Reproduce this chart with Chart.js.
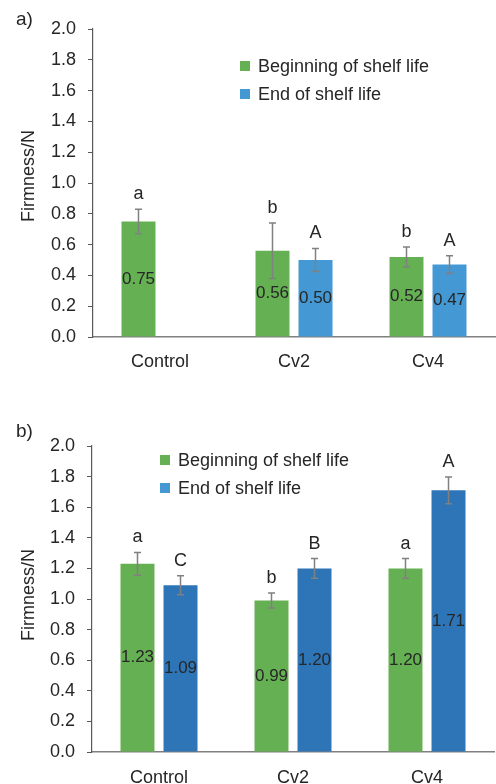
<!DOCTYPE html>
<html>
<head>
<meta charset="utf-8">
<script src="https://cdn.jsdelivr.net/npm/chart.js@4.4.0/dist/chart.umd.min.js"></script>
<style>
  body { margin: 0; background: #fff; }
  .box { position: absolute; left: 0; width: 496px; height: 392px; }
</style>
</head>
<body>
<div class="box" style="top:0"><canvas id="chartA"></canvas></div>
<div class="box" style="top:392px"><canvas id="chartB"></canvas></div>
<script>
// data
const categories = ["Control", "Cv2", "Cv4"];
const seriesNames = ["Beginning of shelf life", "End of shelf life"];

// panel a
const aBegin = [0.75, 0.56, 0.52];
const aEnd = [null, 0.50, 0.47];
const aBeginErr = [0.08, 0.18, 0.065];
const aEndErr = [null, 0.075, 0.057];
const aBeginLetters = ["a", "b", "b"];
const aEndLetters = ["", "A", "A"];

// panel b
const bBegin = [1.23, 0.99, 1.20];
const bEnd = [1.09, 1.20, 1.71];
const bBeginErr = [0.074, 0.049, 0.064];
const bEndErr = [0.062, 0.064, 0.087];
const bBeginLetters = ["a", "b", "a"];
const bEndLetters = ["C", "B", "A"];

const yMin = 0, yMax = 2.0, yStep = 0.2;

const GREEN = "#66b054";
const BLUE_LIGHT = "#4499d5";
const BLUE_DARK = "#2e75b7";
const TEXT = "#262626";
const FONT = "'Liberation Sans', Arial, sans-serif";

Chart.defaults.font.family = FONT;
Chart.defaults.color = TEXT;

// error bars, letters, value labels, legend, panel tag, y title
const overlay = {
  id: "overlay",
  afterDatasetsDraw(chart, args, o) {
    const ctx = chart.ctx;
    const y = chart.scales.y;
    ctx.save();
    chart.data.datasets.forEach((ds, i) => {
      const meta = chart.getDatasetMeta(i);
      meta.data.forEach((bar, j) => {
        const v = ds.data[j];
        if (v == null) return;
        const e = ds.errors[j];
        const top = y.getPixelForValue(v + e);
        const bot = y.getPixelForValue(v - e);
        ctx.strokeStyle = "#808080";
        ctx.lineWidth = 1.5;
        ctx.beginPath();
        ctx.moveTo(bar.x, top); ctx.lineTo(bar.x, bot);
        ctx.moveTo(bar.x - 3.5, top); ctx.lineTo(bar.x + 3.5, top);
        ctx.moveTo(bar.x - 3.5, bot); ctx.lineTo(bar.x + 3.5, bot);
        ctx.stroke();

        ctx.fillStyle = TEXT;
        ctx.textAlign = "center";
        ctx.textBaseline = "middle";
        ctx.font = "17px " + FONT;
        ctx.fillText(v.toFixed(2), bar.x, (bar.y + bar.base) / 2);
        ctx.font = "18px " + FONT;
        ctx.fillText(ds.letters[j], bar.x, top - 15);
      });
    });

    // legend
    ctx.font = "18px " + FONT;
    ctx.textAlign = "left";
    ctx.textBaseline = "alphabetic";
    seriesNames.forEach((name, i) => {
      const base = o.legendY + i * 28;
      ctx.fillStyle = o.legendColors[i];
      ctx.fillRect(o.legendX, base - 11, 10, 10);
      ctx.fillStyle = TEXT;
      ctx.fillText(name, o.legendX + 18, base);
    });

    // panel tag
    ctx.font = "19px " + FONT;
    ctx.fillText(o.panel, 16, o.panelY);

    // y axis title
    ctx.translate(29.5, o.titleY);
    ctx.rotate(-Math.PI / 2);
    ctx.textAlign = "center";
    ctx.textBaseline = "middle";
    ctx.font = "18px " + FONT;
    ctx.fillText("Firmness/N", 0, 0);
    ctx.restore();
  }
};

function makeChart(id, begin, end, beginErr, endErr, beginL, endL, endColor, geo) {
  return new Chart(document.getElementById(id), {
    type: "bar",
    data: {
      labels: categories,
      datasets: [
        { label: seriesNames[0], data: begin, errors: beginErr, letters: beginL,
          backgroundColor: GREEN, categoryPercentage: 0.642, barPercentage: 0.79 },
        { label: seriesNames[1], data: end, errors: endErr, letters: endL,
          backgroundColor: endColor, categoryPercentage: 0.642, barPercentage: 0.79 }
      ]
    },
    options: {
      responsive: true,
      maintainAspectRatio: false,
      animation: false,
      layout: { padding: { top: geo.top, right: geo.right, left: 0, bottom: 0 } },
      plugins: {
        legend: { display: false },
        tooltip: { enabled: false },
        overlay: geo.overlay
      },
      scales: {
        x: {
          grid: { display: false },
          border: { display: true, color: "#808080", width: 1.5 },
          ticks: { font: { size: 18 }, color: TEXT, padding: geo.xPad },
          afterFit: (s) => { s.height = geo.xHeight; }
        },
        y: {
          min: yMin, max: yMax,
          grid: { drawOnChartArea: false, tickLength: 5, color: "#595959" },
          border: { display: true, color: "#595959", width: 1.2 },
          ticks: { stepSize: yStep, font: { size: 18 }, color: TEXT, padding: 12,
                   callback: (v) => v.toFixed(1) },
          afterFit: (s) => { s.width = geo.yWidth; }
        }
      }
    },
    plugins: [overlay]
  });
}

makeChart("chartA", aBegin, aEnd, aBeginErr, aEndErr, aBeginLetters, aEndLetters, BLUE_LIGHT, {
  top: 29, right: 1, xHeight: 55, xPad: 6, yWidth: 93,
  overlay: { legendX: 240, legendY: 72, legendColors: [GREEN, BLUE_LIGHT], panel: "a)", panelY: 25, titleY: 176 }
});

makeChart("chartB", bBegin, bEnd, bBeginErr, bEndErr, bBeginLetters, bEndLetters, BLUE_DARK, {
  top: 54, right: 2, xHeight: 32, xPad: 7, yWidth: 92,
  overlay: { legendX: 160, legendY: 74, legendColors: [GREEN, BLUE_LIGHT], panel: "b)", panelY: 45, titleY: 203 }
});
</script>
</body>
</html>
